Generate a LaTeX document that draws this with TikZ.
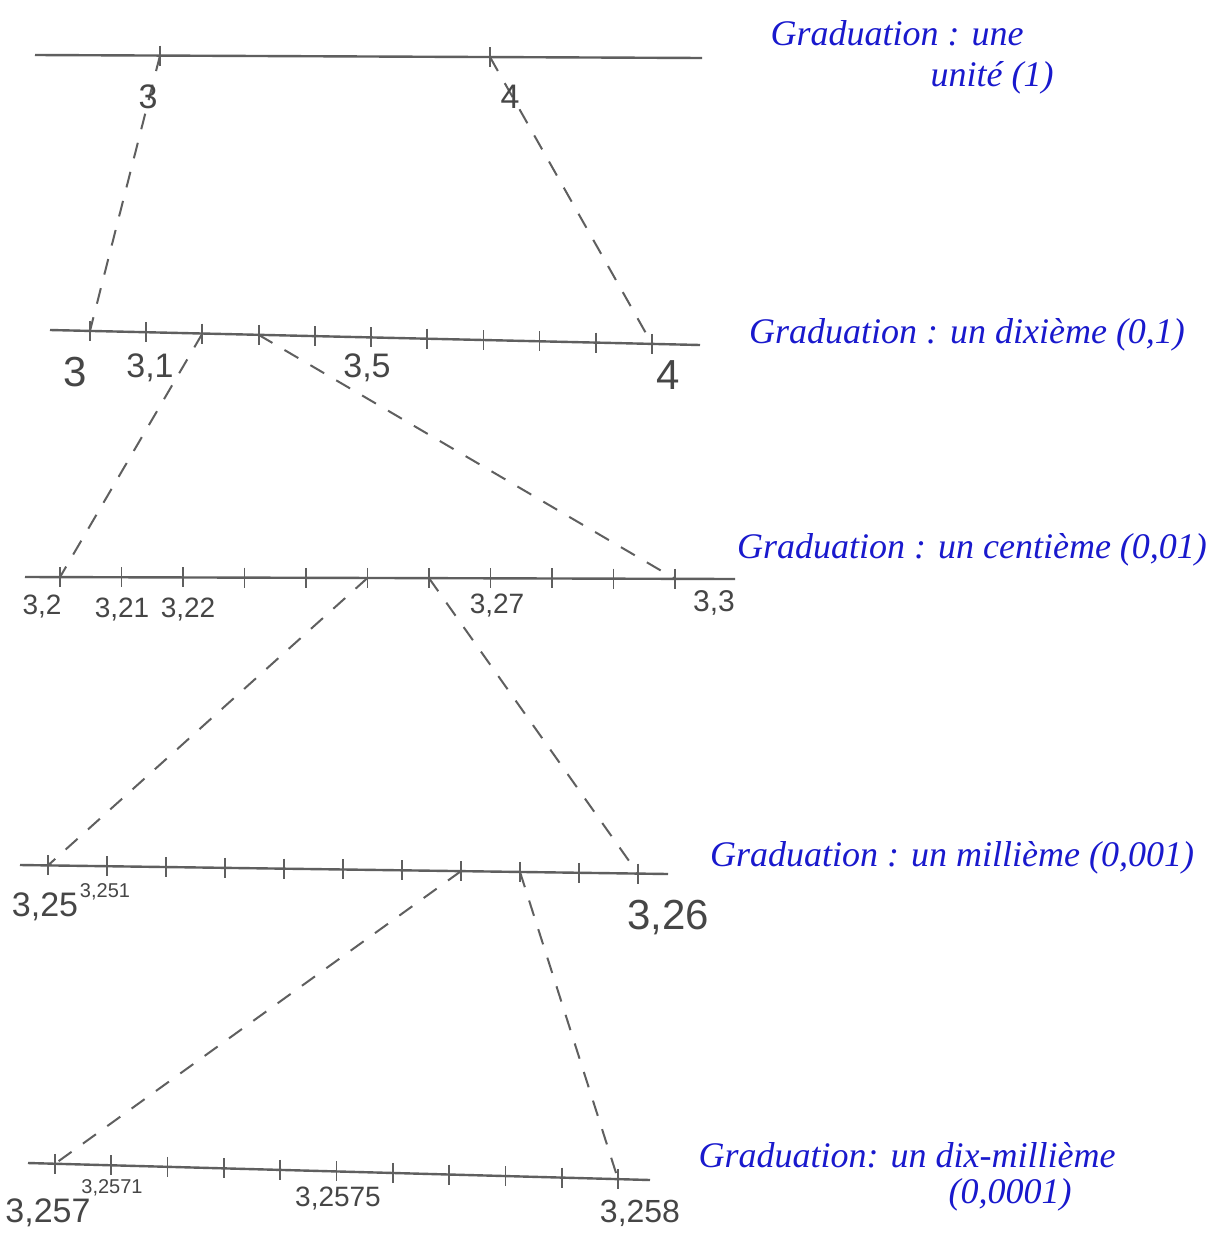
\documentclass[tikz,border=0pt]{standalone}
\usepackage{fontspec}
\setmainfont{Liberation Serif}
\setsansfont{Liberation Sans}
\usetikzlibrary{calc}
\definecolor{penblue}{RGB}{25,25,205}
\definecolor{linegray}{RGB}{95,95,95}
\definecolor{numgray}{RGB}{70,70,70}
\begin{document}
\begin{tikzpicture}[x=0.5pt,y=-0.5pt,
  axis/.style={draw=linegray, line width=1.2pt},
  tickmark/.style={draw=linegray, line width=0.9pt},
  link/.style={draw=linegray, line width=1pt, dash pattern=on 8pt off 7pt},
  num/.style={font=\sffamily, text=numgray, inner sep=0pt},
  capt/.style={font=\itshape\fontsize{18}{21}\selectfont, text=penblue, inner sep=0pt}]
\useasboundingbox[fill=white] (0,0) rectangle (1213,1237);

% line 1
\coordinate (L1a) at (35,55);  \coordinate (L1b) at (702,58);
\draw[axis] (L1a) -- (L1b);
\coordinate (a0) at ($(L1a)!{(160-35)/667}!(L1b)$);
\coordinate (a1) at ($(L1a)!{(490-35)/667}!(L1b)$);
\foreach \c in {a0,a1} \draw[tickmark] ([yshift=5pt]\c) -- ([yshift=-5pt]\c);

% line 2
\coordinate (L2a) at (50,330);  \coordinate (L2b) at (700,345);
\draw[axis] (L2a) -- (L2b);
\foreach \k in {0,...,10} {
  \pgfmathsetmacro\xx{90+56.2*\k}
  \coordinate (b\k) at ($(L2a)!{(\xx-50)/650}!(L2b)$);
  \draw[tickmark] ([yshift=5pt]b\k) -- ([yshift=-5pt]b\k);
}

% line 3
\coordinate (L3a) at (25,577);  \coordinate (L3b) at (735,579);
\draw[axis] (L3a) -- (L3b);
\foreach \k in {0,...,10} {
  \pgfmathsetmacro\xx{60+61.5*\k}
  \coordinate (c\k) at ($(L3a)!{(\xx-25)/710}!(L3b)$);
  \draw[tickmark] ([yshift=5pt]c\k) -- ([yshift=-5pt]c\k);
}

% line 4
\coordinate (L4a) at (20,865);  \coordinate (L4b) at (668,874);
\draw[axis] (L4a) -- (L4b);
\foreach \k in {0,...,10} {
  \pgfmathsetmacro\xx{48+59*\k}
  \coordinate (d\k) at ($(L4a)!{(\xx-20)/648}!(L4b)$);
  \draw[tickmark] ([yshift=5pt]d\k) -- ([yshift=-5pt]d\k);
}

% line 5
\coordinate (L5a) at (28,1163);  \coordinate (L5b) at (650,1180);
\draw[axis] (L5a) -- (L5b);
\foreach \k in {0,...,10} {
  \pgfmathsetmacro\xx{55+56.3*\k}
  \coordinate (e\k) at ($(L5a)!{(\xx-28)/622}!(L5b)$);
  \draw[tickmark] ([yshift=5pt]e\k) -- ([yshift=-5pt]e\k);
}

% dashed zoom links
\draw[link] (a0) -- (b0);
\draw[link] (a1) -- (b10);
\draw[link] (b2) -- (c0);
\draw[link] (b3) -- (c10);
\draw[link] (c5) -- (d0);
\draw[link] (c6) -- (d10);
\draw[link] (d7) -- (e0);
\draw[link] (d8) -- (e10);

% number labels
\node[num, font=\sffamily\fontsize{17}{17}\selectfont] (n1a) at (148,97) {3};
\node[num, font=\sffamily\fontsize{17}{17}\selectfont] (n1b) at (510,97) {4};

\node[num, font=\sffamily\fontsize{21}{21}\selectfont] (n2a) at (75,372) {3};
\node[num, font=\sffamily\fontsize{17}{17}\selectfont] (n2b) at (150,368) {3,1};
\node[num, font=\sffamily\fontsize{17}{17}\selectfont] (n2c) at (367,368) {3,5};
\node[num, font=\sffamily\fontsize{21}{21}\selectfont] (n2d) at (668,375) {4};

\node[num, font=\sffamily\fontsize{14}{14}\selectfont] (n3a) at (42,607) {3,2};
\node[num, font=\sffamily\fontsize{14}{14}\selectfont] (n3b) at (122,610) {3,21};
\node[num, font=\sffamily\fontsize{14}{14}\selectfont] (n3c) at (188,610) {3,22};
\node[num, font=\sffamily\fontsize{14}{14}\selectfont] (n3d) at (497,606) {3,27};
\node[num, font=\sffamily\fontsize{15}{15}\selectfont] (n3e) at (714,603) {3,3};

\node[num, font=\sffamily\fontsize{17}{17}\selectfont] (n4a) at (45,907) {3,25};
\node[num, font=\sffamily\fontsize{10}{10}\selectfont] (n4b) at (105,892) {3,251};
\node[num, font=\sffamily\fontsize{21}{21}\selectfont] (n4c) at (668,918) {3,26};

\node[num, font=\sffamily\fontsize{17}{17}\selectfont] (n5a) at (48,1213) {3,257};
\node[num, font=\sffamily\fontsize{10}{10}\selectfont] (n5b) at (112,1188) {3,2571};
\node[num, font=\sffamily\fontsize{14}{14}\selectfont] (n5c) at (338,1198) {3,2575};
\node[num, font=\sffamily\fontsize{16}{16}\selectfont] (n5d) at (640,1213) {3,258};

% blue captions
\node[capt] (g1a) at (897,33) {Graduation : une};
\node[capt] (g1b) at (992,78) {unité (1)};
\node[capt] (g2) at (967,335) {Graduation : un dixième (0,1)};
\node[capt] (g3) at (972,550) {Graduation : un centième (0,01)};
\node[capt] (g4) at (952,858) {Graduation : un millième (0,001)};
\node[capt] (g5a) at (907,1155) {Graduation: un dix-millième};
\node[capt] (g5b) at (1010,1195) {(0,0001)};
\end{tikzpicture}
\end{document}
